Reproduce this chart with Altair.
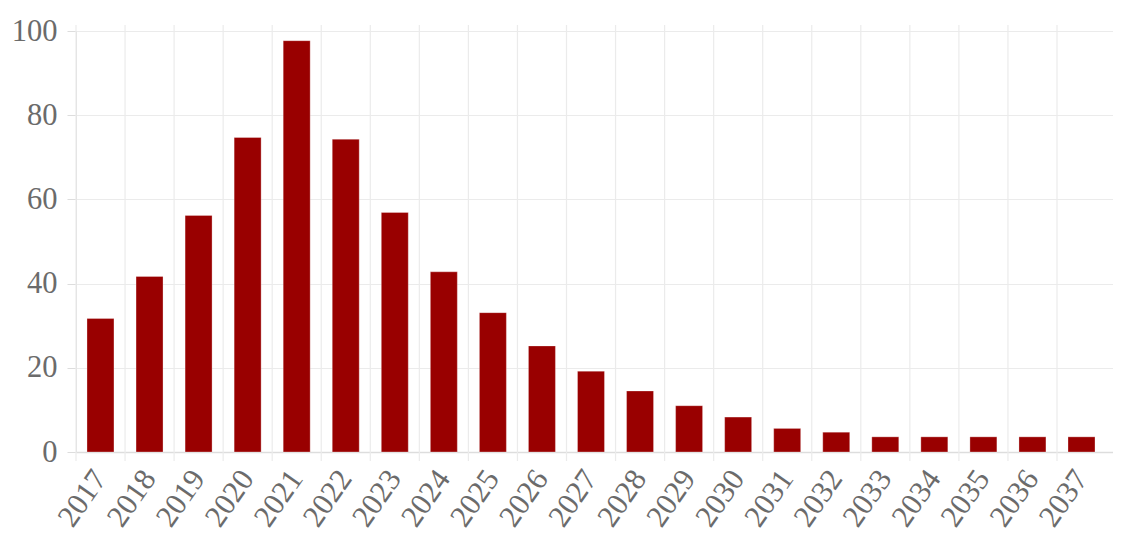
import altair as alt
import pandas as pd

years = [str(y) for y in range(2017, 2038)]
values = [31.7, 41.7, 56.2, 74.7, 97.7, 74.3, 56.9, 42.8, 33.1, 25.2, 19.2,
          14.5, 11.0, 8.3, 5.6, 4.7, 3.6, 3.6, 3.6, 3.6, 3.6]

df = pd.DataFrame({"year": years, "value": values})

W = 1037
H = 421
FONT = "Liberation Serif"
GRID = "#ebebeb"
LABEL = "#6b6b6b"
FS = 30.5

xscale = alt.Scale(paddingInner=0.45, paddingOuter=0.2956, align=0.379)
xaxis = alt.Axis(labelAngle=-55, labelAlign="right", labelBaseline="middle",
                 labelFont=FONT, labelFontSize=FS, labelColor=LABEL,
                 labelPadding=21, ticks=False, grid=False,
                 domainColor="#dddddd", domainWidth=1.5)

grid_rules = alt.Chart(df).mark_rule(color=GRID, strokeWidth=1.2, xOffset=-11).encode(
    x=alt.X("year:N", scale=xscale, bandPosition=0, axis=xaxis, sort=years, title=None),
    y=alt.value(-6),
    y2=alt.value(H + 9),
)

bars = alt.Chart(df).mark_bar(color="#990000", stroke="#ffffff", strokeWidth=0.6,
                               strokeOpacity=0.5).encode(
    x=alt.X("year:N", scale=xscale, sort=years, title=None, axis=xaxis),
    y=alt.Y("value:Q", scale=alt.Scale(domain=[0, 100], nice=False), title=None,
            axis=alt.Axis(values=[0, 20, 40, 60, 80, 100], labelFont=FONT,
                          labelFontSize=FS, labelColor=LABEL, labelPadding=10,
                          tickColor="#dddddd", tickSize=9, domain=False,
                          gridColor=GRID, gridWidth=1.2)),
)

chart = alt.layer(grid_rules, bars).properties(
    width=W, height=H,
    autosize=alt.AutoSizeParams(type="none"),
    padding={"left": 68, "top": 23, "right": 0, "bottom": 90},
).configure_view(stroke=None).configure(background="white")

chart.save("out.html", embed_options={"renderer": "svg", "actions": False})
